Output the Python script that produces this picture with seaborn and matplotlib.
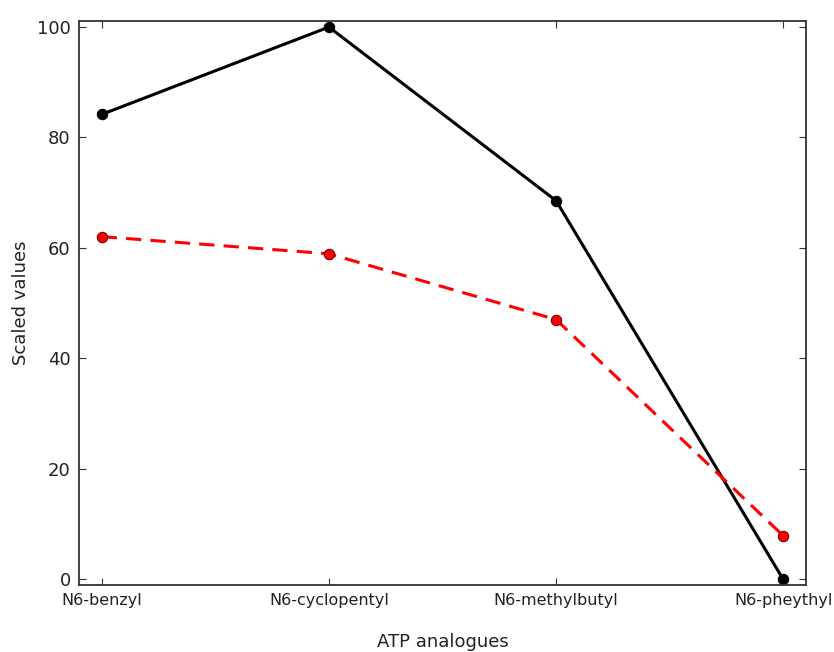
import matplotlib
matplotlib.use("Agg")
import matplotlib.pyplot as plt
import pandas as pd
import seaborn as sns

# Data
analogues = ["N6-benzyl", "N6-cyclopentyl", "N6-methylbutyl", "N6-pheythyl"]
black_values = [84.1, 99.9, 68.5, 0.0]
red_values = [62.0, 58.9, 47.0, 7.9]

df = pd.DataFrame({
    "pos": list(range(len(analogues))) * 2,
    "value": black_values + red_values,
    "series": ["black"] * len(analogues) + ["red"] * len(analogues),
})

sns.set_style("ticks")
plt.rcParams["font.family"] = ["DejaVu Sans"]

fig = plt.figure(figsize=(8.34, 6.52), dpi=100)
ax = fig.add_axes([0.0947, 0.1028, 0.8717, 0.865])

sns.lineplot(data=df[df["series"] == "black"], x="pos", y="value", ax=ax,
             color="black", linewidth=2.2, marker="o", markersize=7.5,
             markeredgecolor="black", legend=False)
sns.lineplot(data=df[df["series"] == "red"], x="pos", y="value", ax=ax,
             color="red", linewidth=2.2, linestyle="--", marker="o", markersize=7.5,
             markerfacecolor="red", markeredgecolor="#6a0000", legend=False)
ax.lines[-1].set_dashes([5, 3])

ax.set_xlim(-0.1, 3.1)
ax.set_ylim(-1, 101)
ax.set_xticks(range(len(analogues)))
ax.set_xticklabels(analogues, fontsize=11.5)
ax.set_yticks([0, 20, 40, 60, 80, 100])
ax.tick_params(axis="y", labelsize=13)
ax.tick_params(direction="in", length=5, width=0.8, top=True, right=True,
               colors="#333333", labelcolor="#222222", pad=6)

for s in ax.spines.values():
    s.set_color("#333333")
    s.set_linewidth(1.3)

ax.set_xlabel("ATP analogues", fontsize=13, labelpad=18, color="#222222")
ax.set_ylabel("Scaled values", fontsize=13, labelpad=5, color="#222222")

fig.savefig("out.png", dpi=100)
